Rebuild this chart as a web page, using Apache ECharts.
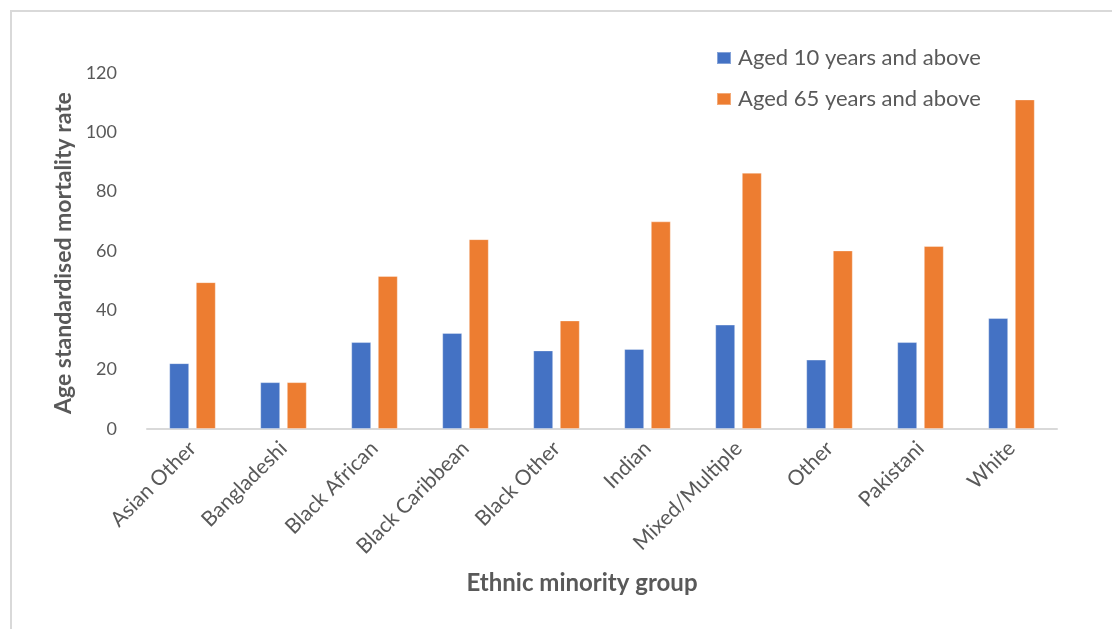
<!DOCTYPE html>
<html>
<head>
<meta charset="utf-8">
<script src="https://cdn.jsdelivr.net/npm/echarts@6/dist/echarts.min.js"></script>
<style>
html,body{margin:0;padding:0;background:#fff;}
#chart{width:1112px;height:629px;}
</style>
</head>
<body>
<div id="chart"></div>
<script>
const categories = ['Asian Other','Bangladeshi','Black African','Black Caribbean','Black Other','Indian','Mixed/Multiple','Other','Pakistani','White'];
const aged10 = [22.2, 15.8, 29.3, 32.4, 26.5, 27.0, 35.2, 23.4, 29.3, 37.4];
const aged65 = [49.5, 15.8, 51.6, 64.0, 36.6, 70.0, 86.4, 60.2, 61.7, 111.1];
const seriesNames = ['Aged 10 years and above','Aged 65 years and above'];
const yTicks = [0, 20, 40, 60, 80, 100, 120];

const FONT = 'Lato';
const chart = echarts.init(document.getElementById('chart'), null, {renderer:'canvas'});
chart.setOption({
  animation:false,
  backgroundColor:'#fff',
  graphic:[
    {type:'rect', shape:{x:11,y:11,width:1120,height:640}, style:{fill:'none', stroke:'#d9d9d9', lineWidth:2}, silent:true},
    {type:'text', x:64, y:253, rotation:Math.PI/2, style:{text:'Age standardised mortality rate', font:'bold 23px ' + FONT, fill:'#595959', align:'center', verticalAlign:'middle'}, silent:true},
    {type:'text', x:582, y:583, style:{text:'Ethnic minority group', font:'bold 24px ' + FONT, fill:'#595959', align:'center', verticalAlign:'middle'}, silent:true}
  ],
  legend:{
    orient:'vertical', left:711, top:42, itemWidth:14, itemHeight:12, itemGap:19,
    icon:'rect',
    textStyle:{fontFamily:FONT, fontSize:22, color:'#595959', padding:[0,0,0,2]},
    data:seriesNames
  },
  grid:{left:147, right:55, top:73, bottom:200, containLabel:false},
  xAxis:{
    type:'category', data:categories,
    axisLine:{lineStyle:{color:'#d9d9d9', width:2}},
    axisTick:{show:false},
    axisLabel:{rotate:45, interval:0, margin:16, fontFamily:FONT, fontSize:21, color:'#595959'}
  },
  yAxis:{
    type:'value', min:0, max:120, interval:20,
    axisLine:{show:false}, axisTick:{show:false}, splitLine:{show:false},
    axisLabel:{margin:30, fontFamily:FONT, fontSize:18, color:'#595959',
      formatter:function(v){return yTicks.indexOf(v)>=0 ? String(v) : '';}}
  },
  series:[
    {name:seriesNames[0], type:'bar', data:aged10, barWidth:20, barGap:'33%', itemStyle:{color:'#4472C4', borderColor:'rgba(255,255,255,0.35)', borderWidth:1}},
    {name:seriesNames[1], type:'bar', data:aged65, barWidth:20, barGap:'33%', itemStyle:{color:'#ED7D31', borderColor:'rgba(255,255,255,0.35)', borderWidth:1}}
  ]
});
</script>
</body>
</html>
